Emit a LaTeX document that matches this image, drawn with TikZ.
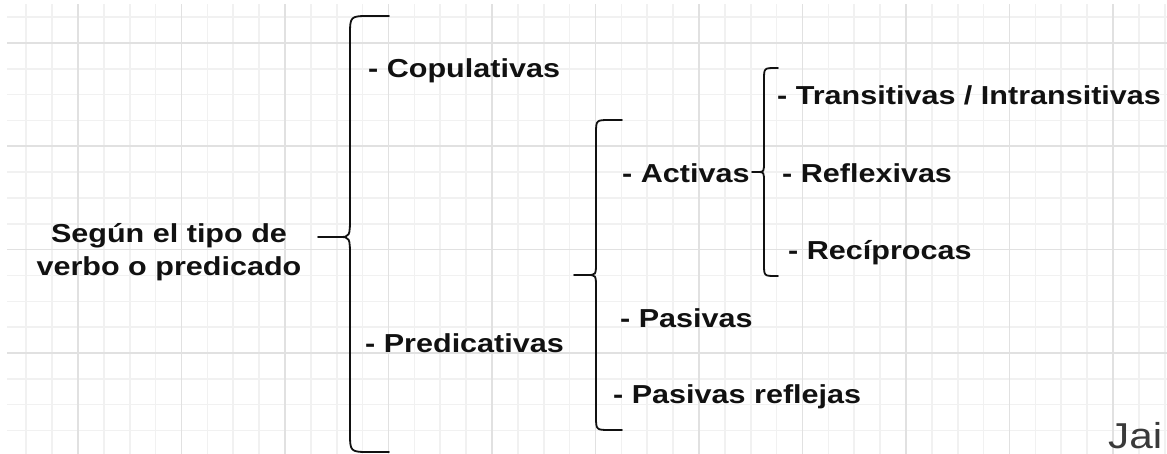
\documentclass[tikz,border=0pt]{standalone}
\usepackage{fontspec}
\newfontfamily\labfont[FakeStretch=1.175]{Liberation Sans}
\definecolor{minorgrid}{HTML}{F1F1F1}
\definecolor{majorgrid}{HTML}{E1E1E1}
\definecolor{inkc}{HTML}{111111}
\definecolor{signc}{HTML}{3A3A3A}
\newcommand\brc[9]{%
  % #1 xv, #2 ytop, #3 ybot, #4 ymid, #5 xtip, #6 xend, #7 corner r, #8 cusp rx, #9 cusp ry
  \draw[bracestyle] (#6,#2) -- ({#1+#7},#2) .. controls (#1,#2) .. (#1,{#2+#7})
     -- (#1,{#4-#9}) .. controls (#1,#4) .. ({#1-#8},#4) -- (#5,#4);
  \draw[bracestyle] ({#1-#8},#4) .. controls (#1,#4) .. (#1,{#4+#9})
     -- (#1,{#3-#7}) .. controls (#1,#3) .. ({#1+#7},#3) -- (#6,#3);
}
\tikzset{
  bracestyle/.style={draw=inkc, line width=1.8pt, line cap=round, line join=round},
  lab/.style={font=\labfont\bfseries\fontsize{26}{33}\selectfont, text=inkc, inner sep=0pt, anchor=base west},
  minorline/.style={draw=minorgrid, line width=1.6pt},
  majorline/.style={draw=majorgrid, line width=1.8pt},
}
\begin{document}
\begin{tikzpicture}[x=1pt,y=-1pt]
\useasboundingbox (0,0) rectangle (1167,454);
\fill[white] (0,0) rectangle (1167,454);
% grid
\begin{scope}
\clip (7,5) rectangle (1167,454);
\foreach \k in {1,...,45} {\draw[minorline] ({0.4+25.875*\k},0) -- ({0.4+25.875*\k},454);}
\foreach \k in {0,...,16} {\draw[minorline] (0,{17.2+25.83*\k}) -- (1167,{17.2+25.83*\k});}
\foreach \k in {0,...,10} {\draw[majorline] ({78.03+103.5*\k},0) -- ({78.03+103.5*\k},454);}
\foreach \k in {0,...,3} {\draw[majorline] (0,{43+103.3*\k}) -- (1167,{43+103.3*\k});}
\end{scope}
% braces
\brc{350}{16}{452}{237}{318}{389}{20}{11}{22}
\brc{596}{120}{430}{275}{574}{622}{14}{9}{13}
\brc{764}{68}{276}{172}{752}{778}{12}{6}{11}
% labels
\node[lab, anchor=center, align=center] (root) at (169,252) {Según el tipo de\\verbo o predicado};
\node[lab] (cop) at (368,78) {- Copulativas};
\node[lab] (pred) at (365,352) {- Predicativas};
\node[lab] (act) at (622,183) {- Activas};
\node[lab] (pas) at (620,327) {- Pasivas};
\node[lab] (pasr) at (613,403) {- Pasivas reflejas};
\node[lab] (trans) at (777,105) {- Transitivas / Intransitivas};
\node[lab] (refl) at (782,183) {- Reflexivas};
\node[lab] (rec) at (788,260) {- Recíprocas};
\node[inner sep=0pt, anchor=base west, text=signc, font=\labfont\fontsize{36}{40}\selectfont] (sign) at (1108,448) {Jai};
\end{tikzpicture}
\end{document}
